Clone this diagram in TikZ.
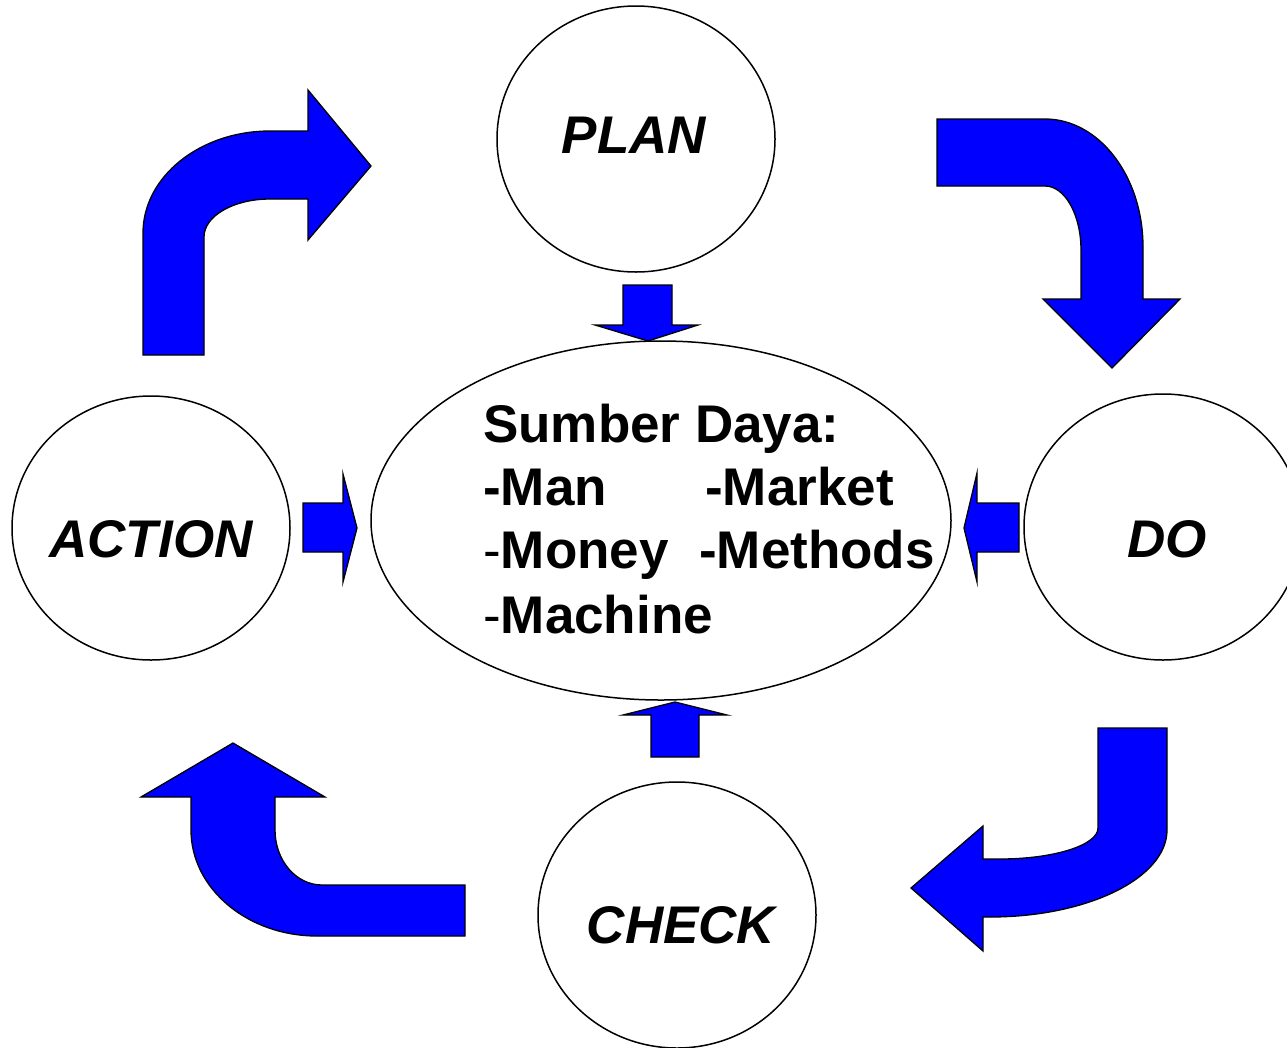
\documentclass[tikz,border=0pt]{standalone}
\usepackage{fontspec}
\setmainfont{Liberation Sans}
\usetikzlibrary{shapes.geometric}
\tikzset{
  phase/.style={draw=black, line width=1.5pt, ellipse, inner sep=0pt, fill=white},
  lbl/.style={inner sep=0pt, font=\fontsize{53}{60}\selectfont\bfseries\itshape},
  res/.style={inner sep=0pt, anchor=base west, font=\fontsize{53}{60}\selectfont\bfseries},
  bluearrow/.style={draw=black, line width=1.3pt, fill={rgb,255:red,0;green,0;blue,255}, line join=miter}
}
\begin{document}
\begin{tikzpicture}[x=1pt,y=-1pt]
\useasboundingbox (0,0) rectangle (1287,1047);
\fill[white] (0,0) rectangle (1287,1047);
% phase ellipses
\node[phase, minimum width=278pt, minimum height=266pt] (plan) at (636,139) {};
\node[phase, minimum width=278pt, minimum height=264pt] (action) at (151,528) {};
\node[phase, minimum width=278pt, minimum height=266pt] (do) at (1163,527) {};
\node[phase, minimum width=278pt, minimum height=266pt] (check) at (677,915) {};
\node[phase, minimum width=580pt, minimum height=359pt] (res) at (661,520.5) {};
% labels
\node[lbl, anchor=base] (planlbl) at (634,153) {PLAN};
\node[lbl, anchor=base] (actionlbl) at (151,557) {ACTION};
\node[lbl, anchor=base] (dolbl) at (1167,557) {DO};
\node[lbl, anchor=base] (checklbl) at (681,943) {CHECK};
% resources text
\node[res] (t0) at (483,442) {Sumber Daya:};
\node[res] (t1) at (483,505) {-Man};
\node[res] (t2) at (705,505) {-Market};
\node[res] (t3) at (483,568) {{\mdseries -}Money};
\node[res] (t4) at (699,568) {-Methods};
\node[res] (t5) at (483,633) {{\mdseries -}Machine};
% small arrows
\draw[bluearrow] (303,503) -- (343,503) -- (343,474) -- (357,528) -- (343,582) -- (343,552) -- (303,552) -- cycle;
\draw[bluearrow] (623,285) -- (672,285) -- (672,325) -- (698,325) -- (648,341) -- (595,325) -- (623,325) -- cycle;
\draw[bluearrow] (1019,503) -- (977,503) -- (977,473) -- (964,528) -- (977,582) -- (977,552) -- (1019,552) -- cycle;
\draw[bluearrow] (651,757) -- (699,757) -- (699,715) -- (727,715) -- (675,702) -- (623,715) -- (651,715) -- cycle;
% top-left bent arrow (ACTION -> PLAN)
\draw[bluearrow] (143,355) -- (143,233)
  .. controls (143,176.7) and (199.9,131) .. (270,131)
  -- (308,131) -- (308,90) -- (371,166) -- (308,240) -- (308,199) -- (270,199)
  .. controls (233.5,199) and (204,216) .. (204,237)
  -- (204,355) -- cycle;
% top-right bent arrow (PLAN -> DO)
\draw[bluearrow] (937,119) -- (1045,119)
  .. controls (1099.1,119) and (1143,176.3) .. (1143,247)
  -- (1143,299) -- (1180,299) -- (1112,368) -- (1043,299) -- (1081,299) -- (1081,250)
  .. controls (1081,214.7) and (1064.9,186) .. (1045,186)
  -- (937,186) -- cycle;
% bottom-right bent arrow (DO -> CHECK)
\draw[bluearrow] (1167,728) -- (1167,830)
  .. controls (1167,878) and (1087.8,917) .. (990,917)
  -- (983,917) -- (983,951) -- (911,888) -- (983,826) -- (983,859) -- (1000,859)
  .. controls (1054.1,859) and (1098,845.1) .. (1098,828)
  -- (1098,728) -- cycle;
% bottom-left bent arrow (CHECK -> ACTION)
\draw[bluearrow] (465,936) -- (317,936)
  .. controls (247.4,936) and (191,888.5) .. (191,830)
  -- (191,797) -- (141,797) -- (233,743) -- (325,797) -- (275,797) -- (275,830)
  .. controls (275,860.4) and (296,885) .. (322,885)
  -- (465,885) -- cycle;
\end{tikzpicture}
\end{document}
